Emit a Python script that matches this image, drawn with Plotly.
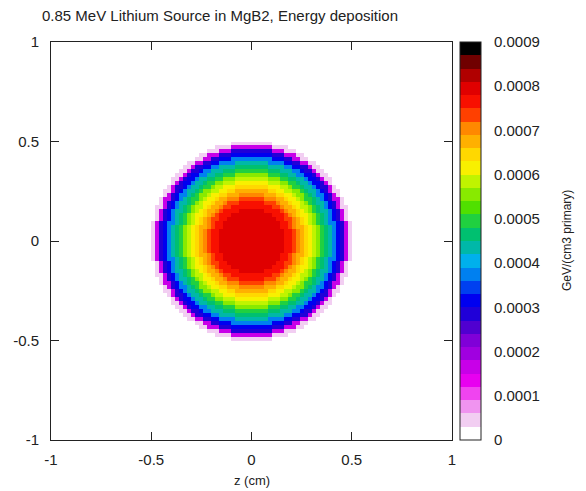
import numpy as np
import plotly.graph_objects as go

# Radial energy-deposition profile (GeV/(cm3 primary)) in 0.02 cm rings, from the axis outward
ring_width = 0.02
ring_edep = [
    0.000808, 0.000806, 0.000804, 0.000800, 0.000795,
    0.000790, 0.000785, 0.000780, 0.000770, 0.000755,
    0.000735, 0.000710, 0.000680, 0.000650, 0.000615,
    0.000580, 0.000545, 0.000505, 0.000470, 0.000420,
    0.000370, 0.000315, 0.000270, 0.000160, 0.000040,
]

# Scoring mesh: 100 x 100 bins over [-1, 1] cm
n_bins = 100
axis_min, axis_max = -1.0, 1.0

# Colour bar ticks
cb_ticks = [0, 0.0001, 0.0002, 0.0003, 0.0004, 0.0005, 0.0006, 0.0007, 0.0008, 0.0009]
cb_text = ["0", "0.0001", "0.0002", "0.0003", "0.0004", "0.0005",
           "0.0006", "0.0007", "0.0008", "0.0009"]
axis_ticks = [-1, -0.5, 0, 0.5, 1]
axis_text = ["-1", "-0.5", "0", "0.5", "1"]

# Discrete palette, 30 levels from 0 to 0.0009
palette = [
    "#ffffff", "#f2cef2", "#f094f0", "#f044f0", "#e800f0", "#c800e8",
    "#a000e0", "#8000d8", "#5000d0", "#2000d8", "#0000f0", "#0040f0",
    "#0080f0", "#00b0ec", "#00b8a8", "#00c070", "#20d040", "#50e000",
    "#88ea00", "#c0f400", "#f8f000", "#ffd800", "#ffb000", "#ff8800",
    "#ff4000", "#f81000", "#e00000", "#b00000", "#700000", "#000000",
]
zmin, zmax = 0.0, 0.0009

# Build the binned map by looking up each cell's ring
edges = np.linspace(axis_min, axis_max, n_bins + 1)
centres = 0.5 * (edges[:-1] + edges[1:])
xx, yy = np.meshgrid(centres, centres)
ring_idx = (np.hypot(xx, yy) / ring_width).astype(int)
profile = np.array(ring_edep + [0.0])
z = profile[np.minimum(ring_idx, len(ring_edep))]

# Stepped colourscale
n = len(palette)
colorscale = []
for i, c in enumerate(palette):
    colorscale.append([i / n, c])
    colorscale.append([(i + 1) / n, c])

W, H = 586, 491
ml, mr, mt, mb = 51, 134, 42, 51
plot_w = W - ml - mr
plot_h = H - mt - mb

cb_left_px, cb_w = 460, 21
cb_x = (cb_left_px - ml) / plot_w

fig = go.Figure(go.Heatmap(
    x=centres, y=centres, z=z,
    zmin=zmin, zmax=zmax, zsmooth=False,
    colorscale=colorscale,
    hoverinfo="skip",
    colorbar=dict(
        x=cb_x, xanchor="left", xpad=0,
        y=0.5, yanchor="middle", len=1, lenmode="fraction", ypad=0,
        thickness=cb_w, thicknessmode="pixels",
        outlinewidth=1, outlinecolor="#222",
        tickvals=cb_ticks, ticktext=cb_text,
        ticks="outside", ticklen=10, tickcolor="rgba(0,0,0,0)",
        tickfont=dict(family="Liberation Sans", size=15, color="#222"),
    ),
))

# Dashed tick marks across the colour bar, from both sides
shapes = []
x0 = cb_x
x1 = (cb_left_px + cb_w - ml) / plot_w
seg = 7 / plot_w
for v in cb_ticks[1:-1]:
    yv = (v - zmin) / (zmax - zmin)
    for a, b in ((x0, x0 + seg), (x1 - seg, x1)):
        shapes.append(dict(type="line", xref="paper", yref="paper",
                           x0=a, x1=b, y0=yv, y1=yv,
                           line=dict(color="#222", width=1)))

axis_common = dict(
    range=[axis_min, axis_max], showgrid=False, zeroline=False,
    showline=True, linecolor="#222", linewidth=1, mirror="allticks",
    ticks="inside", ticklen=8, tickcolor="#222",
    tickvals=axis_ticks, ticktext=axis_text,
    tickfont=dict(family="Liberation Sans", size=15, color="#222"),
)

fig.update_layout(
    width=W, height=H,
    margin=dict(l=ml, r=mr, t=mt, b=mb, autoexpand=False),
    paper_bgcolor="white", plot_bgcolor="white",
    title=dict(text="0.85 MeV Lithium Source in MgB2, Energy deposition",
               x=42 / W, xanchor="left", xref="container",
               y=1 - 16 / H, yanchor="middle", yref="container",
               font=dict(family="Liberation Sans", size=15, color="#222")),
    xaxis=dict(**axis_common, ticklabelstandoff=6),
    yaxis=dict(**axis_common, ticklabelstandoff=8),
    shapes=shapes,
    annotations=[
        dict(text="GeV/(cm3 primary)", textangle=-90,
             xref="paper", yref="paper",
             x=(567 - ml) / plot_w, y=0.5,
             xanchor="center", yanchor="middle", showarrow=False,
             font=dict(family="Liberation Sans", size=12, color="#222")),
        dict(text="z (cm)", xref="paper", yref="paper",
             x=0.5, y=-(489 - (mt + plot_h)) / plot_h,
             xanchor="center", yanchor="bottom", showarrow=False,
             borderpad=0,
             font=dict(family="Liberation Sans", size=13, color="#222")),
    ],
)

fig.write_html("out.html")
